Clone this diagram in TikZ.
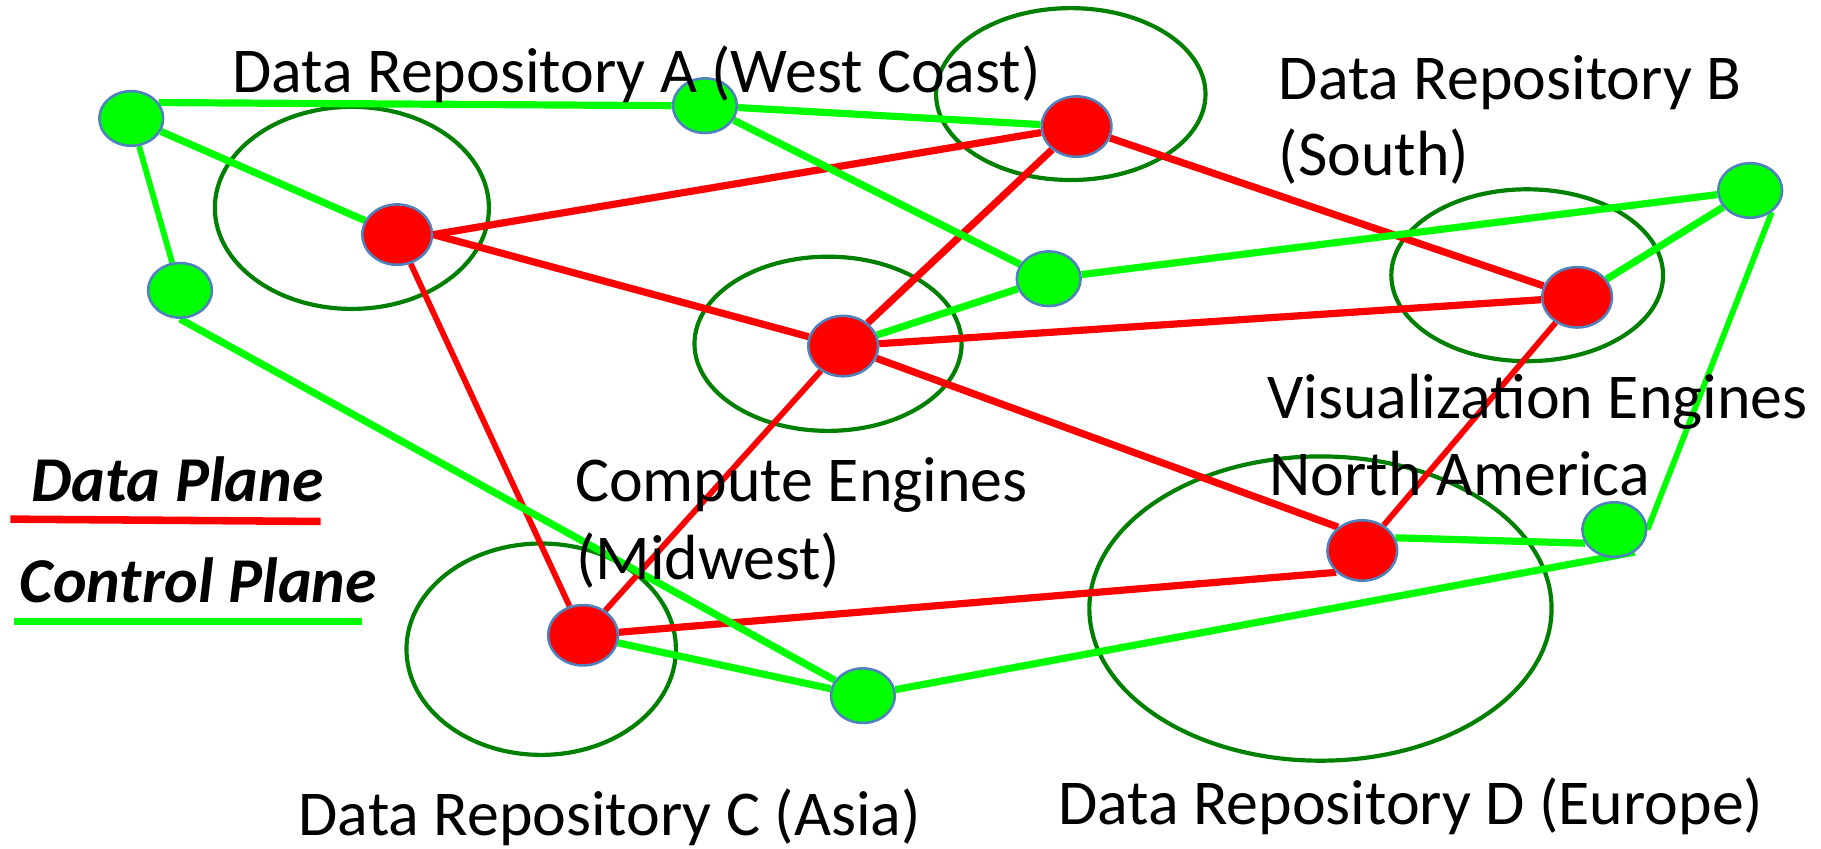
\documentclass[tikz,border=0pt]{standalone}
\usepackage{fontspec}
\setmainfont{Carlito}
\usetikzlibrary{shapes.geometric}
\definecolor{lg}{RGB}{0,255,0}
\definecolor{rd}{RGB}{255,0,0}
\definecolor{dg}{RGB}{0,128,0}
\definecolor{bd}{RGB}{79,129,189}
\pgfdeclarelayer{bg}
\pgfsetlayers{bg,main}
\begin{document}
\begin{tikzpicture}[x=1pt,y=-1pt,
 gnode/.style={ellipse,fill=lg,draw=bd,line width=2.2pt,minimum width=55pt,minimum height=47pt,inner sep=0pt},
 rnode/.style={ellipse,fill=rd,draw=bd,line width=2.2pt,minimum width=60pt,minimum height=52pt,inner sep=0pt},
 region/.style={draw=dg,line width=3.6pt},
 dline/.style={draw=rd,line width=6.2pt},
 dthin/.style={draw=rd,line width=5pt},
 cline/.style={draw=lg,line width=6.2pt},
 cthin/.style={draw=lg,line width=5pt},
 lbl/.style={anchor=base west,inner sep=0pt,font=\fontsize{55}{66}\selectfont},
 leg/.style={anchor=base west,inner sep=0pt,font=\fontsize{55}{66}\selectfont\bfseries\itshape}]
\useasboundingbox (0,0) rectangle (1568,731);

% nodes
\node[gnode] (G1) at (113,102) {};
\node[gnode] (G2) at (607,91) {};
\node[rnode] (RA) at (342,202) {};
\node[gnode] (G3) at (155,250) {};
\node[rnode] (RW) at (927,109) {};
\node[gnode] (G4) at (903,240) {};
\node[gnode] (G5) at (1507,164) {};
\node[rnode] (RB) at (1358,256) {};
\node[rnode] (RC) at (726,298) {};
\node[rnode] (RN) at (1173,474) {};
\node[gnode] (G6) at (1390,456) {};
\node[rnode] (RD) at (502,547) {};
\node[gnode] (G7) at (743,599) {};

\coordinate (dp1) at (9,447);
\coordinate (dp2) at (276,449);
\coordinate (cp1) at (12,535);
\coordinate (cp2) at (312,535);

\begin{pgfonlayer}{bg}
% regions
\draw[region] (303,179) ellipse [x radius=118pt, y radius=87pt];
\draw[region] (922,81) ellipse [x radius=116pt, y radius=74pt];
\draw[region] (1315,237) ellipse [x radius=117pt, y radius=74pt];
\draw[region] (713,296) ellipse [x radius=115pt, y radius=75pt];
\draw[region] (466,559) ellipse [x radius=116pt, y radius=91pt];
\draw[region] (1137,524) ellipse [x radius=199pt, y radius=131pt];
% data plane
\draw[dline] (RA.east) -- (RW);
\draw[dline] (RA.east) -- (RC);
\draw[dthin] (RA) -- (RD);
\draw[dline] (RW) -- (RB);
\draw[dline] (RW) -- (RC);
\draw[dline] (RC) -- (RB);
\draw[dline] (RC) -- (RN.136);
\draw[dthin] (RN) -- (RB);
\draw[dline] (RD) -- (RN.220);
\draw[dthin] (RD) -- (RC);
% control plane
\draw[cline] (G1.30) -- (G2.west);
\draw[cline] (G1) -- (RA);
\draw[cthin] (G1) -- (G3);
\draw[cline] (G2) -- (RW);
\draw[cline] (G2) -- (G4);
\draw[cline] (G4) -- (RC);
\draw[cline] (G4) -- (G5);
\draw[cline] (G5) -- (RB);
\draw[cthin] (G5.-45) -- (G6.east);
\draw[cline] (RN.21) -- (G6.205);
\draw[cline] (G7) -- (G6.-48);
\draw[cline] (G3.south) -- (G7);
\draw[cline] (RD) -- (G7);
% legend lines
\draw[draw=rd,line width=6.5pt] (dp1) -- (dp2);
\draw[draw=lg,line width=6.5pt] (cp1) -- (cp2);
\end{pgfonlayer}

% labels
\node[lbl] (tA) at (200,80) {Data Repository A (West Coast)};
\node[lbl] (tB1) at (1101,86) {Data Repository B};
\node[lbl] (tB2) at (1101,151) {(South)};
\node[lbl] (tC1) at (495,432) {Compute Engines};
\node[lbl] (tC2) at (496,499) {(Midwest)};
\node[lbl] (tV1) at (1091,360) {Visualization Engines};
\node[lbl] (tV2) at (1093,427) {North America};
\node[lbl] (tRC) at (257,719) {Data Repository C (Asia)};
\node[lbl] (tRD) at (911,710) {Data Repository D (Europe)};
\node[leg] (lD) at (27,432) {Data Plane};
\node[leg] (lC) at (17,519) {Control Plane};
\end{tikzpicture}
\end{document}
